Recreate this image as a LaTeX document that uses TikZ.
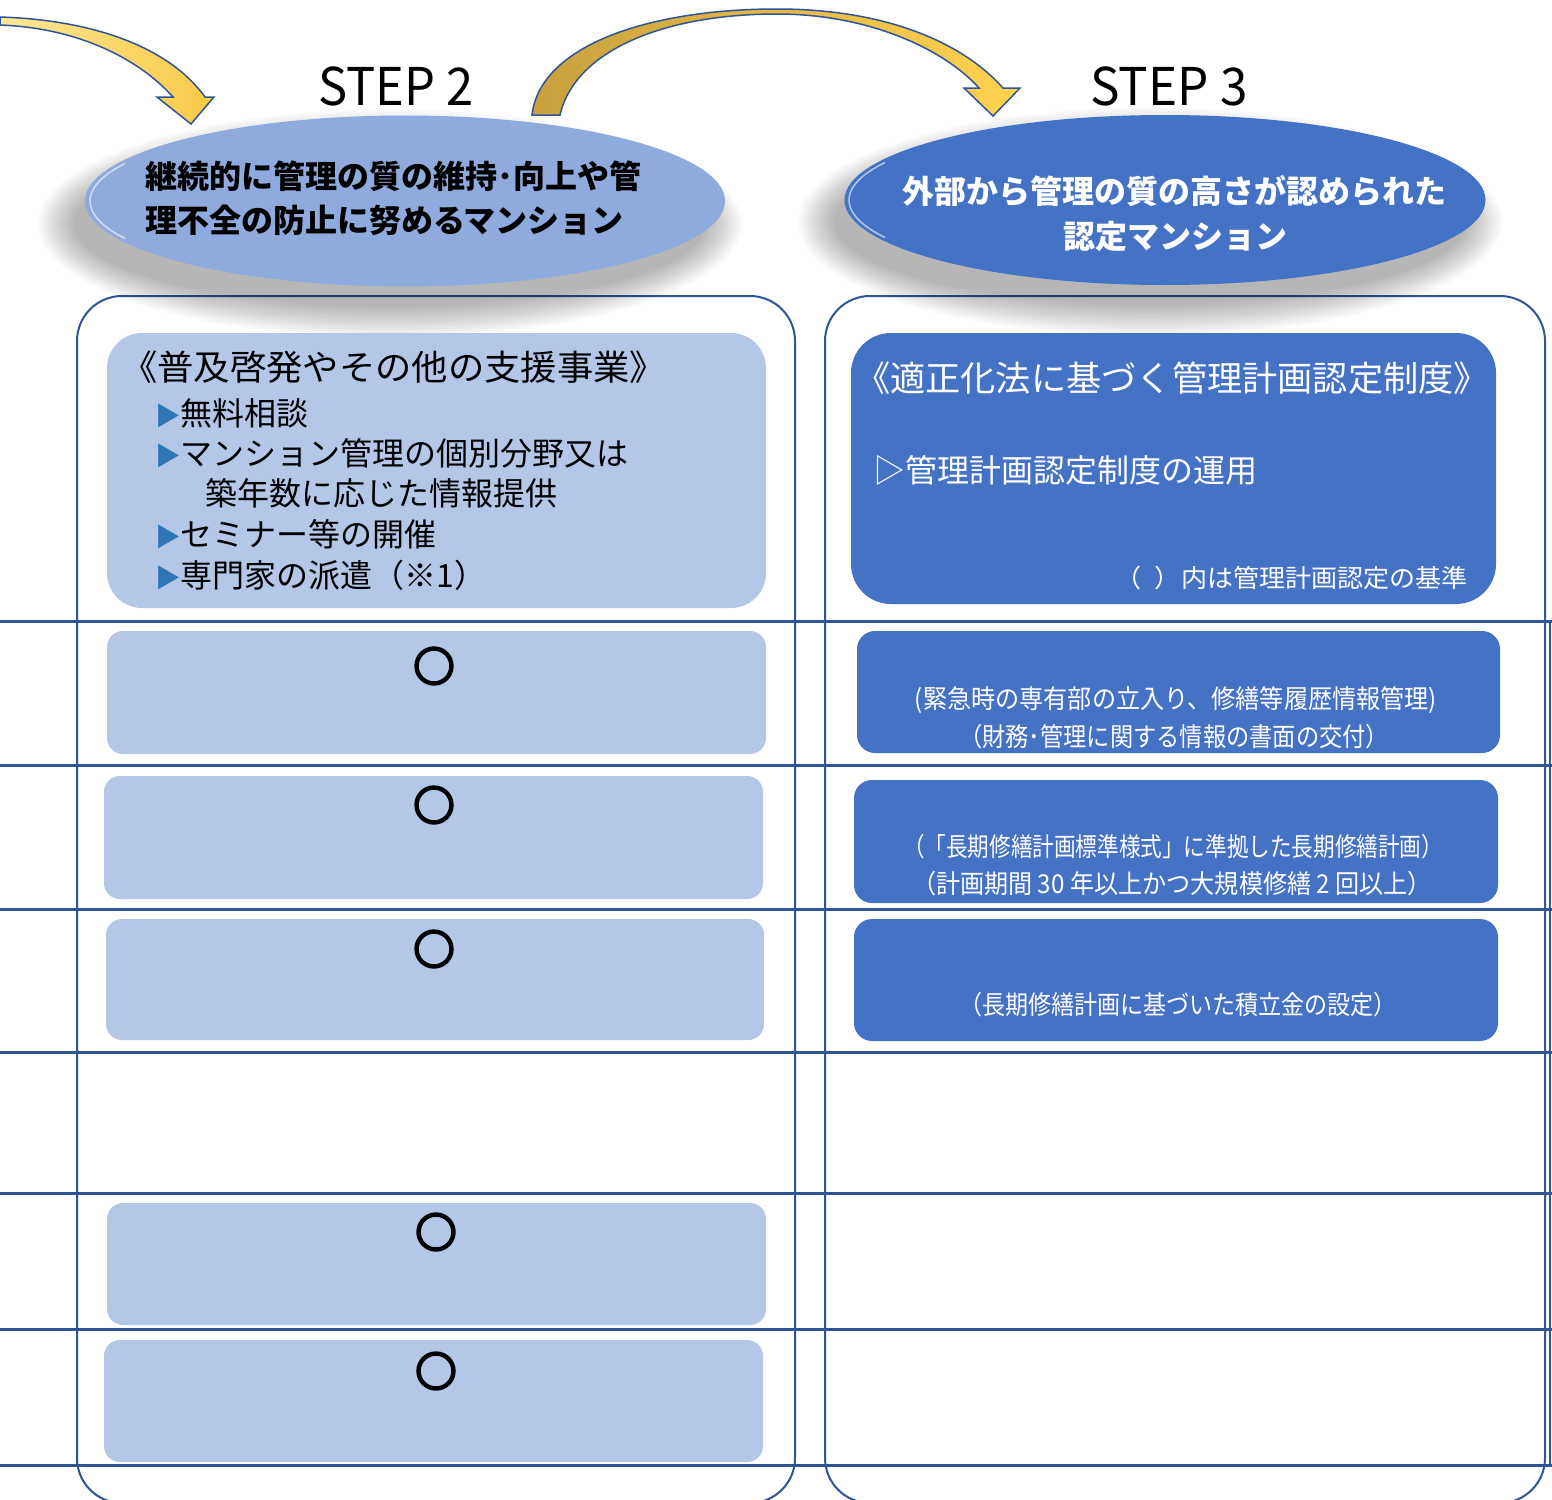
\documentclass[tikz,border=0pt]{standalone}
\usepackage{fontspec}
\usepackage{graphicx}
\newfontfamily\jp{Noto Sans CJK JP}
\newfontfamily\jpring[FakeBold=6]{Noto Sans CJK JP}
\usetikzlibrary{shapes.geometric}
\definecolor{linec}{HTML}{2F5597}
\definecolor{lightbox}{HTML}{B4C7E7}
\definecolor{ellL}{HTML}{8FAADC}
\definecolor{darkbox}{HTML}{4472C4}
\definecolor{triblue}{HTML}{2E75B6}
\newcommand\fitw[2]{\resizebox{#1pt}{\height}{#2}}
\begin{document}
\begin{tikzpicture}[x=1pt,y=-1pt,font=\jp,
  outerbox/.style={draw=linec,line width=2pt,rounded corners=45pt},
  rowline/.style={draw=linec,line width=3pt},
  lboxbig/.style={fill=lightbox,rounded corners=35pt},
  lbox/.style={fill=lightbox,rounded corners=16pt},
  dboxbig/.style={fill=darkbox,rounded corners=40pt},
  dbox/.style={fill=darkbox,rounded corners=18pt},
  txt/.style={inner sep=0pt},
  ellbold/.style={txt,font=\jp\bfseries\fontsize{32}{32}\selectfont},
  bigtxt/.style={txt,font=\jp\fontsize{35}{35}\selectfont},
  bultxt/.style={txt,anchor=west,font=\jp\fontsize{32}{32}\selectfont},
  rowtxt/.style={txt,text=white,font=\jp\fontsize{26}{26}\selectfont},
  ringmark/.style={txt,font=\jpring\bfseries\fontsize{41}{41}\selectfont},
  steplbl/.style={txt,font=\jp\fontsize{52}{52}\selectfont},
  arrowshape/.style={draw=linec,line width=1.5pt,line join=miter}
]
\useasboundingbox (0,0) rectangle (1552,1499);
\fill[white] (0,0) rectangle (1552,1499);

% outer column frames
\draw[outerbox] (77,296) rectangle (795,1503);
\draw[outerbox] (825,296) rectangle (1545,1503);

% table lines
\foreach \yy in {621,765,909,1052,1193,1329,1465}
  \draw[rowline] (0,\yy) -- (1552,\yy);
\draw[draw=linec,line width=2pt] (1550,621) -- (1550,1465);

% ellipse shadows
\foreach \k in {0,...,12}{
  \fill[black,opacity=0.022] (390,224) ellipse [x radius={316+3*\k}, y radius={83+2.6*\k}];
  \fill[black,opacity=0.022] (1150,222) ellipse [x radius={316+3*\k}, y radius={83+2.6*\k}];
}

% ellipses
\node[ellipse,fill=ellL,minimum width=640,minimum height=171,inner sep=0pt] (ell2) at (405,201) {};
\node[ellipse,fill=darkbox,minimum width=641,minimum height=170,inner sep=0pt] (ell3) at (1165,200) {};
\begin{scope}
  \clip (80,150) rectangle (125,255);
  \draw[white,opacity=0.6,line width=1.5pt] (407,201) ellipse [x radius=317, y radius=82];
\end{scope}
\begin{scope}
  \clip (840,150) rectangle (885,255);
  \draw[white,opacity=0.6,line width=1.5pt] (1167,200) ellipse [x radius=318, y radius=81];
\end{scope}

% ellipse texts
\node[ellbold,anchor=west] (e2a) at (145,176) {継続的に管理の質の維持･向上や管};
\node[ellbold,anchor=west] (e2b) at (145,220) {理不全の防止に努めるマンション};
\node[ellbold,text=white] (e3a) at (1174,191) {外部から管理の質の高さが認められた};
\node[ellbold,text=white] (e3b) at (1175,236) {認定マンション};

% STEP labels
\node[steplbl] (step2) at (396,86) {\fitw{155}{STEP 2}};
\node[steplbl] (step3) at (1169,86) {\fitw{157}{STEP 3}};

% arrows
\draw[arrowshape,left color={rgb,255:red,255;green,232;blue,150},right color={rgb,255:red,248;green,201;blue,71}]
  (0,17) .. controls (95,20) and (170,48) .. (205,97) -- (214,97) -- (191,124) -- (157,97) -- (173,97)
  .. controls (140,60) and (80,28) .. (0,25) -- cycle;
\draw[arrowshape,left color={rgb,255:red,200;green,160;blue,62},right color={rgb,255:red,255;green,211;blue,78}]
  (532,115) .. controls (540,45) and (650,9) .. (777,9) .. controls (890,9) and (965,45) .. (1003,88)
  -- (1020,88) -- (993,116) -- (964,88) -- (979,88)
  .. controls (945,50) and (870,14) .. (777,14) .. controls (665,14) and (575,50) .. (560,115) -- cycle;

% left column boxes
\node[lboxbig,minimum width=659,minimum height=275,inner sep=0pt] (lb0) at (436.5,470.5) {};
\node[lbox,minimum width=659,minimum height=123,inner sep=0pt] (lb1) at (436.5,692.5) {};
\node[lbox,minimum width=659,minimum height=123,inner sep=0pt] (lb2) at (433.5,837.5) {};
\node[lbox,minimum width=658,minimum height=121,inner sep=0pt] (lb3) at (435,979.5) {};
\node[lbox,minimum width=659,minimum height=122,inner sep=0pt] (lb5) at (436.5,1264) {};
\node[lbox,minimum width=659,minimum height=122,inner sep=0pt] (lb6) at (433.5,1401) {};

% right column boxes
\node[dboxbig,minimum width=645,minimum height=271,inner sep=0pt] (db0) at (1173.5,468.5) {};
\node[dbox,minimum width=643,minimum height=122,inner sep=0pt] (db1) at (1178.5,692) {};
\node[dbox,minimum width=644,minimum height=123,inner sep=0pt] (db2) at (1176,841.5) {};
\node[dbox,minimum width=644,minimum height=122,inner sep=0pt] (db3) at (1176,980) {};

% left top box text
\node[bigtxt,anchor=west] (lt0) at (121,367) {\fitw{545}{《普及啓発やその他の支援事業》}};
\node[bultxt] (lt1) at (155,413) {\textcolor{triblue}{\scalebox{0.8}{▶}}無料相談};
\node[bultxt] (lt2) at (155,453) {\textcolor{triblue}{\scalebox{0.8}{▶}}マンション管理の個別分野又は};
\node[bultxt] (lt3) at (205,493) {築年数に応じた情報提供};
\node[bultxt] (lt4) at (155,534) {\textcolor{triblue}{\scalebox{0.8}{▶}}セミナー等の開催};
\node[bultxt] (lt5) at (155,575) {\textcolor{triblue}{\scalebox{0.8}{▶}}専門家の派遣（※1）};

% right top box text
\node[bigtxt,text=white] (rt0) at (1172,378) {\fitw{634}{《適正化法に基づく管理計画認定制度》}};
\node[bultxt,text=white] (rt1) at (873,470) {▷管理計画認定制度の運用};
\node[txt,text=white,anchor=east,font=\jp\fontsize{25}{25}\selectfont] (rt2) at (1468,578) {\fitw{352}{（\hspace{0.5em}）内は管理計画認定の基準}};

% row texts
\node[rowtxt] (t1a) at (1176,700) {\fitw{522}{(緊急時の専有部の立入り、修繕等履歴情報管理)}};
\node[rowtxt] (t1b) at (1174,737) {\fitw{430}{（財務･管理に関する情報の書面の交付）}};
\node[rowtxt] (t2a) at (1173,847) {\fitw{540}{（「長期修繕計画標準様式」に準拠した長期修繕計画）}};
\node[rowtxt] (t2b) at (1172,884) {\fitw{520}{（計画期間 30 年以上かつ大規模修繕 2 回以上）}};
\node[rowtxt] (t3) at (1178,1005) {\fitw{438}{（長期修繕計画に基づいた積立金の設定）}};

% marks
\node[ringmark] (m1) at (434,666) {○};
\node[ringmark] (m2) at (434,805) {○};
\node[ringmark] (m3) at (434,949) {○};
\node[ringmark] (m5) at (436,1232) {○};
\node[ringmark] (m6) at (436,1371) {○};
\end{tikzpicture}
\end{document}
